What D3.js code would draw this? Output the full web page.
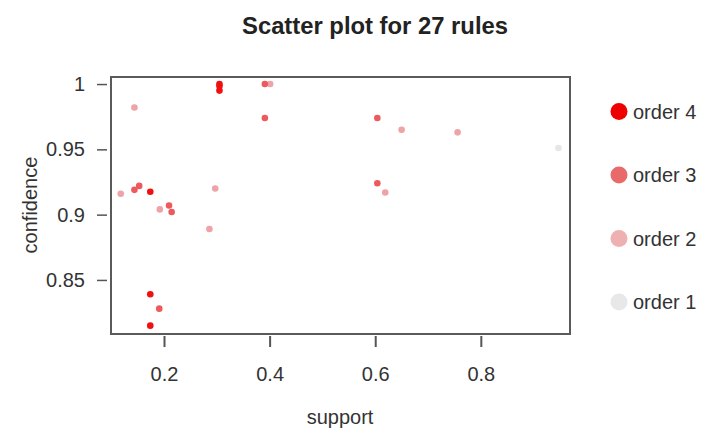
<!DOCTYPE html>
<html><head><meta charset="utf-8">
<script src="https://cdn.jsdelivr.net/npm/d3@7/dist/d3.min.js"></script>
<style>body{margin:0;background:#fff}svg{display:block;font-family:"Liberation Sans",Arial,sans-serif}</style>
</head><body><svg id="c" width="703" height="433"></svg>
<script>
const support    = [0.305,0.305,0.305,0.391,0.401,0.144,0.391,0.118,0.144,0.153,0.174,0.297,0.192,0.2095,0.2145,0.286,0.174,0.191,0.174,0.604,0.650,0.756,0.947,0.604,0.619];
const confidence = [1.000,0.9985,0.995,1.000,1.000,0.982,0.974,0.916,0.919,0.922,0.9175,0.920,0.904,0.907,0.902,0.889,0.839,0.828,0.815,0.974,0.965,0.963,0.951,0.924,0.917];
const order      = [4,4,4,3,2,2,3,2,3,3,4,2,2,3,3,2,4,3,4,3,2,2,1,3,2];
const xTicks = [0.2,0.4,0.6,0.8];
const yTicks = [0.85,0.9,0.95,1];
const legendOrders = [4,3,2,1];
const legendLabels = ["order 4","order 3","order 2","order 1"];

const svg = d3.select("#c");
const L=111,R=570,T=77,B=334;
const x = d3.scaleLinear().domain([0.0996,0.9689]).range([L,R]);
const y = d3.scaleLinear().domain([0.8086,1.0054]).range([B,T]);
const col = d3.scaleOrdinal().domain([4,3,2,1]).range(["#ee0000","#e86a6a","#efb0b2","#e8e8e8"]);
const ptCol = d3.scaleOrdinal().domain([4,3,2,1]).range(["#f01010","#ec5a5e","#eea3a7","#e6e6e6"]);

svg.append("text").attr("x",375).attr("y",34).attr("text-anchor","middle")
  .attr("font-size",24).attr("font-weight","bold").attr("fill","#222")
  .attr("textLength",266).attr("lengthAdjust","spacingAndGlyphs").text("Scatter plot for 27 rules");

// points (draw lower orders first)
const idx = d3.range(support.length).sort((a,b)=>order[a]-order[b]);
svg.append("g").selectAll("circle").data(idx).join("circle")
  .attr("cx",i=>x(support[i])).attr("cy",i=>y(confidence[i])).attr("r",3.3)
  .attr("fill",i=>ptCol(order[i]));

// box
svg.append("rect").attr("x",L).attr("y",T).attr("width",R-L).attr("height",B-T)
  .attr("fill","none").attr("stroke","#5a5a5a").attr("stroke-width",2);

// x axis
const xa = svg.append("g").attr("transform",`translate(0,${B+2})`)
  .call(d3.axisBottom(x).tickValues(xTicks).tickSize(11).tickPadding(20).tickFormat(d3.format("")));
xa.select(".domain").remove();
xa.selectAll("line").attr("stroke","#555").attr("stroke-width",2);
xa.selectAll("text").attr("font-size",20).attr("fill","#333").attr("font-family","Liberation Sans, Arial, sans-serif");

// y axis
const ya = svg.append("g").attr("transform",`translate(${L-4},0)`)
  .call(d3.axisLeft(y).tickValues(yTicks).tickSize(10).tickPadding(12).tickFormat(d3.format("")));
ya.select(".domain").remove();
ya.selectAll("line").attr("stroke","#555").attr("stroke-width",1.5);
ya.selectAll("text").attr("font-size",20).attr("fill","#333").attr("font-family","Liberation Sans, Arial, sans-serif");

svg.append("text").attr("x",340).attr("y",424).attr("text-anchor","middle")
  .attr("font-size",20).attr("fill","#333").text("support");
svg.append("text").attr("transform","translate(37,205) rotate(-90)").attr("text-anchor","middle")
  .attr("font-size",20).attr("fill","#333").text("confidence");

// legend
const lg = svg.append("g").selectAll("g").data(legendOrders).join("g")
  .attr("transform",(d,i)=>`translate(619,${111.5+i*63.5})`);
lg.append("circle").attr("r",8.5).attr("fill",d=>col(d));
lg.append("text").attr("x",14).attr("y",7).attr("font-size",20).attr("fill","#333")
  .text((d,i)=>legendLabels[i]);
</script></body></html>
